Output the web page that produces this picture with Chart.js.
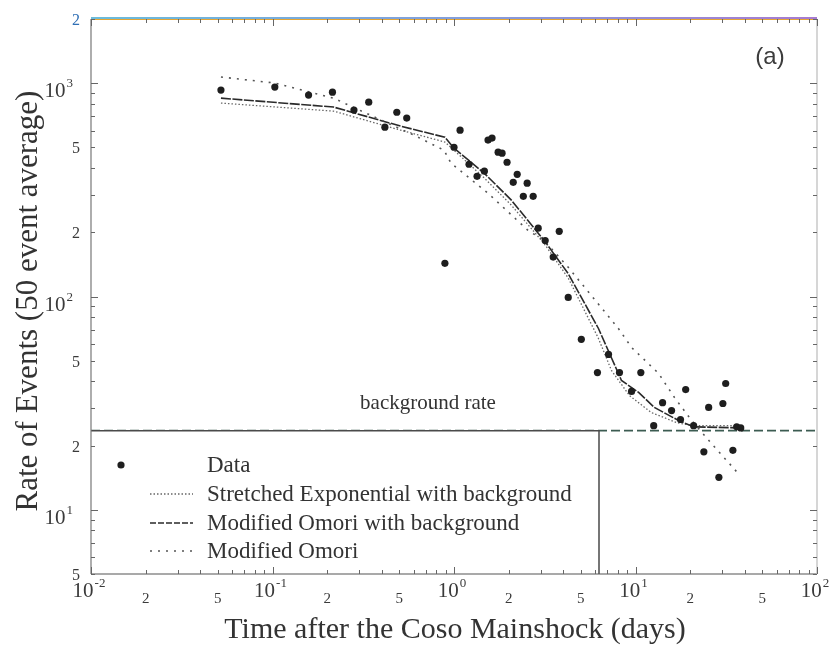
<!DOCTYPE html>
<html>
<head>
<meta charset="utf-8">
<script src="https://cdn.jsdelivr.net/npm/chart.js@4.4.0/dist/chart.umd.min.js"></script>
<style>
  html, body { margin: 0; padding: 0; background: #fff; }
  #wrap { width: 832px; height: 646px; }
</style>
</head>
<body>
<div id="wrap"><canvas id="rateChart" width="832" height="646"></canvas></div>
<script>
// observed rates (50 event average), time in days
const dataT = [0.052, 0.103, 0.158, 0.214, 0.281, 0.339, 0.416, 0.484, 0.549, 0.891,
  1.0, 1.08, 1.21, 1.34, 1.47, 1.54, 1.62, 1.75, 1.84, 1.96,
  2.12, 2.23, 2.41, 2.53, 2.73, 2.91, 3.18, 3.52, 3.80, 4.26,
  5.03, 6.17, 7.10, 8.16, 9.51, 10.7, 12.6, 14.1, 15.8, 17.7,
  18.9, 20.9, 23.8, 25.3, 28.8, 30.3, 31.4, 34.4, 36.1, 38.0];
const dataRate = [929, 959, 880, 908, 748, 815, 622, 731, 686, 143,
  501, 602, 417, 366, 387, 541, 553, 475, 470, 426,
  343, 374, 295, 340, 295, 209, 183, 153, 202, 99,
  63, 44, 53.5, 44, 35.9, 44, 24.8, 31.8, 29.2, 26.5,
  36.6, 24.8, 18.7, 30.2, 14.2, 31.5, 39.1, 19.0, 24.5, 24.2];

// stretched exponential with background
const stretchT = [0.052, 0.217, 0.509, 0.891, 1.0, 1.47, 2.07, 3.14, 4.26, 6.25, 7.37, 9.27, 12.2, 16.9, 20.9, 36.1];
const stretchRate = [807, 740, 602, 530, 485, 359, 268, 177, 122, 63.6, 45, 34.3, 28.6, 25.6, 24.8, 24.8];

// modified Omori with background
const omoriBgT = [0.052, 0.217, 0.509, 0.891, 1.0, 1.47, 2.07, 3.14, 4.26, 6.25, 8.37, 10.4, 12.7, 17.3, 20.9, 38.0];
const omoriBgRate = [851, 773, 629, 558, 496, 378, 283, 183, 128, 70.8, 40.4, 35.5, 30.2, 26.2, 24.5, 24.2];

// modified Omori without background
const omoriT = [0.052, 0.103, 0.217, 0.431, 0.601, 0.881, 0.962, 1.54, 2.56, 3.14, 4.26, 8.05, 9.51, 13.4, 16.4, 20.4, 26.3, 37.6];
const omoriRate = [1069, 1002, 851, 650, 571, 485, 422, 305, 204, 183, 137, 70.8, 57.7, 43.6, 33.6, 26.2, 20.4, 14.5];

const backgroundRate = 23.5;
const xRange = [0.01, 100];
const yRange = [5, 2000];

const xLabelTicks = [0.01, 0.02, 0.05, 0.1, 0.2, 0.5, 1, 2, 5, 10, 20, 50, 100];
const xLabelText = ['10^-2', '2', '5', '10^-1', '2', '5', '10^0', '2', '5', '10^1', '2', '5', '10^2'];
const yLabelTicks = [5, 10, 20, 50, 100, 200, 500, 1000, 2000];
const yLabelText = ['5', '10^1', '2', '5', '10^2', '2', '5', '10^3', '2'];

const SERIF = '"Liberation Serif", "Times New Roman", serif';
const INK = '#333';

const pts = (xs, ys) => xs.map((x, i) => ({ x: x, y: ys[i] }));

// draws "10^n" style label, anchored by align at (x, y)
function drawLabel(ctx, text, x, y, align, bigSize, supSize, raise) {
  const parts = text.split('^');
  ctx.textAlign = 'left';
  ctx.textBaseline = 'alphabetic';
  ctx.font = bigSize + 'px ' + SERIF;
  const wb = ctx.measureText(parts[0]).width;
  let we = 0;
  if (parts[1] !== undefined) {
    ctx.font = supSize + 'px ' + SERIF;
    we = ctx.measureText(parts[1]).width + 1;
  }
  const total = wb + we;
  const x0 = align === 'center' ? x - total / 2 : x - total;
  ctx.font = bigSize + 'px ' + SERIF;
  ctx.fillText(parts[0], x0, y);
  if (parts[1] !== undefined) {
    ctx.font = supSize + 'px ' + SERIF;
    ctx.fillText(parts[1], x0 + wb + 1, y - raise);
  }
}

const framePlugin = {
  id: 'frame',
  beforeDraw(chart) {
    const ctx = chart.ctx;
    ctx.save();
    ctx.fillStyle = '#fff';
    ctx.fillRect(0, 0, chart.width, chart.height);
    ctx.restore();
  },
  afterDraw(chart) {
    const ctx = chart.ctx;
    const a = chart.chartArea;
    const xs = chart.scales.x;
    const ys = chart.scales.y;
    ctx.save();

    // legend box sits on the background rate line
    const bgY = ys.getPixelForValue(backgroundRate);
    const boxRight = 599;
    ctx.fillStyle = '#fff';
    ctx.fillRect(a.left, bgY, boxRight - a.left, a.bottom - bgY);
    ctx.strokeStyle = '#4a4a4a';
    ctx.lineWidth = 1.5;
    ctx.beginPath();
    ctx.moveTo(a.left, bgY);
    ctx.lineTo(boxRight, bgY);
    ctx.lineTo(boxRight, a.bottom);
    ctx.stroke();

    // frame
    ctx.lineWidth = 1.2;
    ctx.strokeStyle = '#777';
    ctx.beginPath();
    ctx.moveTo(a.left, a.top);
    ctx.lineTo(a.left, a.bottom);
    ctx.stroke();
    ctx.strokeStyle = '#555';
    ctx.beginPath();
    ctx.moveTo(a.left, a.bottom);
    ctx.lineTo(a.right, a.bottom);
    ctx.stroke();
    ctx.strokeStyle = '#bbb';
    ctx.beginPath();
    ctx.moveTo(a.right, a.top);
    ctx.lineTo(a.right, a.bottom);
    ctx.stroke();
    const topGrad = ctx.createLinearGradient(a.left, 0, a.right, 0);
    topGrad.addColorStop(0, '#3aa6cf');
    topGrad.addColorStop(0.5, '#5a7fd0');
    topGrad.addColorStop(1, '#8a4fc0');
    ctx.lineWidth = 1.5;
    ctx.strokeStyle = topGrad;
    ctx.beginPath();
    ctx.moveTo(a.left, a.top - 1);
    ctx.lineTo(a.right, a.top - 1);
    ctx.stroke();
    ctx.strokeStyle = '#e6a532';
    ctx.lineWidth = 1;
    ctx.beginPath();
    ctx.moveTo(a.left, a.top + 0.5);
    ctx.lineTo(a.right, a.top + 0.5);
    ctx.stroke();

    // inward ticks on all four sides
    ctx.strokeStyle = '#666';
    ctx.lineWidth = 1;
    for (let e = -2; e <= 1; e++) {
      for (let m = 1; m <= 10; m++) {
        const v = m * Math.pow(10, e);
        if (v > xRange[1]) continue;
        const px = Math.round(xs.getPixelForValue(v)) + 0.5;
        const len = (m === 1 || m === 10) ? 7 : 4;
        ctx.beginPath();
        ctx.moveTo(px, a.bottom);
        ctx.lineTo(px, a.bottom - len);
        ctx.moveTo(px, a.top);
        ctx.lineTo(px, a.top + len);
        ctx.stroke();
      }
    }
    for (let e = 0; e <= 3; e++) {
      for (let m = 1; m <= 10; m++) {
        const v = m * Math.pow(10, e);
        if (v < yRange[0] || v > yRange[1]) continue;
        const py = Math.round(ys.getPixelForValue(v)) + 0.5;
        const len = (m === 1 || m === 10) ? 7 : 4;
        ctx.beginPath();
        ctx.moveTo(a.left, py);
        ctx.lineTo(a.left + len, py);
        ctx.moveTo(a.right, py);
        ctx.lineTo(a.right - len, py);
        ctx.stroke();
      }
    }

    // tick labels
    ctx.fillStyle = '#3a3a3a';
    xLabelTicks.forEach((v, i) => {
      const px = xs.getPixelForValue(v);
      const t = xLabelText[i];
      if (t.indexOf('^') >= 0) drawLabel(ctx, t, px - 2, 597, 'center', 21, 13, 10);
      else drawLabel(ctx, t, px, 603, 'center', 15, 15, 0);
    });
    yLabelTicks.forEach((v, i) => {
      const py = ys.getPixelForValue(v);
      const t = yLabelText[i];
      if (t.indexOf('^') >= 0) drawLabel(ctx, t, 73, py + 14, 'right', 21, 13, 10);
      else {
        ctx.fillStyle = (v === 2000) ? '#2f6fb5' : '#3a3a3a';
        drawLabel(ctx, t, 80, py + 6, 'right', 16, 16, 0);
        ctx.fillStyle = '#3a3a3a';
      }
    });

    // axis titles
    ctx.fillStyle = INK;
    ctx.textAlign = 'center';
    ctx.textBaseline = 'alphabetic';
    ctx.font = '30px ' + SERIF;
    ctx.fillText('Time after the Coso Mainshock (days)', 455, 638);
    ctx.save();
    ctx.translate(37, 301);
    ctx.rotate(-Math.PI / 2);
    ctx.font = '31px ' + SERIF;
    ctx.fillText('Rate of Events (50 event average)', 0, 0);
    ctx.restore();

    // annotations
    ctx.font = '21px ' + SERIF;
    ctx.fillText('background rate', 428, 409);
    ctx.font = '24px "Liberation Sans", Arial, sans-serif';
    ctx.fillStyle = '#3c3c3c';
    ctx.fillText('(a)', 770, 64);

    // legend entries
    const rows = [
      { text: 'Data', y: 472 },
      { text: 'Stretched Exponential with background', y: 501, ds: 3 },
      { text: 'Modified Omori with background', y: 530, ds: 2 },
      { text: 'Modified Omori', y: 558, ds: 1 }
    ];
    ctx.textAlign = 'left';
    ctx.font = '23px ' + SERIF;
    rows.forEach((r) => {
      ctx.fillStyle = INK;
      ctx.fillText(r.text, 207, r.y);
      if (r.ds === undefined) {
        ctx.fillStyle = '#1e1e1e';
        ctx.beginPath();
        ctx.arc(121, r.y - 7, 3.6, 0, Math.PI * 2);
        ctx.fill();
      } else {
        const d = chart.data.datasets[r.ds];
        ctx.strokeStyle = d.borderColor;
        ctx.lineWidth = d.borderWidth;
        ctx.setLineDash(r.ds === 2 ? [6, 2] : d.borderDash);
        ctx.beginPath();
        ctx.moveTo(150, r.y - 7);
        ctx.lineTo(193, r.y - 7);
        ctx.stroke();
        ctx.setLineDash([]);
      }
    });
    ctx.restore();
  }
};

const curve = (label, xs, ys, color, width, dash) => ({
  label: label,
  data: pts(xs, ys),
  showLine: true,
  fill: false,
  borderColor: color,
  borderWidth: width,
  borderDash: dash,
  pointRadius: 0,
  tension: 0
});

new Chart(document.getElementById('rateChart'), {
  type: 'scatter',
  data: {
    datasets: [
      {
        label: 'Data',
        data: pts(dataT, dataRate),
        pointRadius: 3.6,
        pointBackgroundColor: '#1e1e1e',
        pointBorderWidth: 0,
        showLine: false
      },
      curve('Modified Omori', omoriT, omoriRate, '#555', 1.6, [2, 6]),
      curve('Modified Omori with background', omoriBgT, omoriBgRate, '#2a2a2a', 1.6, [10, 1.5]),
      curve('Stretched Exponential with background', stretchT, stretchRate, '#666', 1.3, [1.5, 2]),
      curve('background', [xRange[0], xRange[1]], [backgroundRate, backgroundRate], '#3c5c52', 1.8, [9, 4])
    ]
  },
  options: {
    responsive: false,
    animation: false,
    devicePixelRatio: 1,
    layout: { padding: { top: 19, right: 15, left: 0, bottom: 0 } },
    plugins: { legend: { display: false }, tooltip: { enabled: false } },
    scales: {
      x: {
        type: 'logarithmic',
        min: xRange[0],
        max: xRange[1],
        grid: { display: false },
        border: { display: false },
        ticks: { display: false },
        afterFit: (scale) => { scale.height = 72; }
      },
      y: {
        type: 'logarithmic',
        min: yRange[0],
        max: yRange[1],
        grid: { display: false },
        border: { display: false },
        ticks: { display: false },
        afterFit: (scale) => { scale.width = 91; }
      }
    }
  },
  plugins: [framePlugin]
});
</script>
</body>
</html>
